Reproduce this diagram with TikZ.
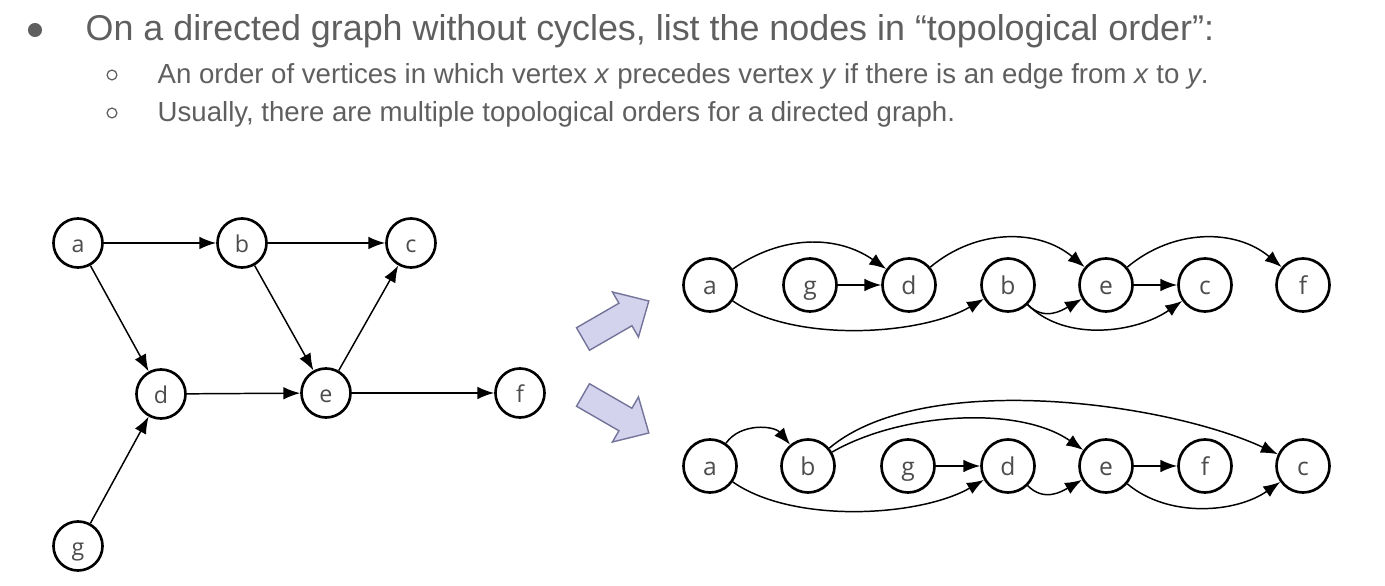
\documentclass[tikz,border=0pt]{standalone}
\usepackage{fontspec}
\setmainfont{Liberation Sans}
\newfontfamily\nodefont{Open Sans}
\usetikzlibrary{arrows.meta}
\definecolor{txt}{HTML}{5F5F5F}
\definecolor{arrfill}{HTML}{D3D3EE}
\definecolor{arrdraw}{HTML}{74749A}
\begin{document}
\begin{tikzpicture}[x=0.01cm,y=-0.01cm,
  vtx/.style={circle,draw=black,line width=0.75pt,minimum size=0.49cm,inner sep=0pt,
    text height=1.2ex,text depth=0.2ex,
    font=\nodefont\fontsize{6.6}{7}\selectfont,text=black!70},
  vtxr/.style={vtx,minimum size=0.53cm,font=\nodefont\fontsize{7}{8}\selectfont},
  edge/.style={line width=0.42pt,-{Latex[length=4.8pt,width=3.6pt]}},
  txtline/.style={anchor=base west,inner sep=0pt,text=txt},
  blockarrow/.style={fill=arrfill,draw=arrdraw,line width=0.4pt,line join=miter},
]
\useasboundingbox (0,0) rectangle (1385,586);

% text
\fill[txt] (35,30) circle (2pt);
\node[txtline,font=\fontsize{10.2}{12}\selectfont] (h1) at (85,41)
  {On a directed graph without cycles, list the nodes in “topological order”:};
\draw[txt,line width=0.35pt] (112,75) circle (1.4pt);
\node[txtline,font=\fontsize{7.85}{9}\selectfont] (h2) at (157,84)
  {An order of vertices in which vertex \textit{x} precedes vertex \textit{y} if there is an edge from \textit{x} to \textit{y}.};
\draw[txt,line width=0.35pt] (112,113) circle (1.4pt);
\node[txtline,font=\fontsize{7.85}{9}\selectfont] (h3) at (157,122)
  {Usually, there are multiple topological orders for a directed graph.};

% left graph
\node[vtx] (a) at (78,243) {a};
\node[vtx] (b) at (242,243) {b};
\node[vtx] (c) at (411,243) {c};
\node[vtx] (d) at (161,394) {d};
\node[vtx] (e) at (326,393) {e};
\node[vtx] (f) at (520,393) {f};
\node[vtx] (g) at (78,546) {g};
\draw[edge] (a) -- (b);
\draw[edge] (b) -- (c);
\draw[edge] (a) -- (d);
\draw[edge] (b) -- (e);
\draw[edge] (e) -- (c);
\draw[edge] (d) -- (e);
\draw[edge] (e) -- (f);
\draw[edge] (g) -- (d);

% block arrows
\begin{scope}[shift={(583,339)},rotate=30]
  \draw[blockarrow] (0,-13) -- (49,-13) -- (49,-26) -- (76,0) -- (49,26) -- (49,13) -- (0,13) -- cycle;
\end{scope}
\begin{scope}[shift={(583,395)},rotate=-30]
  \draw[blockarrow] (0,-13) -- (49,-13) -- (49,-26) -- (76,0) -- (49,26) -- (49,13) -- (0,13) -- cycle;
\end{scope}

% top order: a g d b e c f
\node[vtxr] (ta) at (710,285) {a};
\node[vtxr] (tg) at (810,285) {g};
\node[vtxr] (td) at (909,285) {d};
\node[vtxr] (tb) at (1008,285) {b};
\node[vtxr] (te) at (1106,285) {e};
\node[vtxr] (tc) at (1205,285) {c};
\node[vtxr] (tf) at (1303,285) {f};
\draw[edge] (ta) to[out=35,in=145] (td);
\draw[edge] (ta) to[out=-35,in=-150,looseness=0.75] (tb);
\draw[edge] (tg) -- (td);
\draw[edge] (td) to[out=40,in=140] (te);
\draw[edge] (tb) to[out=-45,in=-150,looseness=1.1] (te);
\draw[edge] (tb) to[out=-45,in=-145,looseness=0.9] (tc);
\draw[edge] (te) -- (tc);
\draw[edge] (te) to[out=40,in=140] (tf);

% bottom order: a b g d e f c
\node[vtxr] (ba) at (710,466) {a};
\node[vtxr] (bb) at (808,466) {b};
\node[vtxr] (bg) at (908,466) {g};
\node[vtxr] (bd) at (1008,466) {d};
\node[vtxr] (be) at (1106,466) {e};
\node[vtxr] (bf) at (1205,466) {f};
\node[vtxr] (bc) at (1303,466) {c};
\draw[edge] (ba) to[out=55,in=130] (bb);
\draw[edge] (ba) to[out=-35,in=-150,looseness=0.75] (bd);
\draw[edge] (bb) to[out=40,in=155,looseness=0.7] (bc);
\draw[edge] (bb) to[out=30,in=145,looseness=0.8] (be);
\draw[edge] (bg) -- (bd);
\draw[edge] (bd) to[out=-45,in=-150,looseness=1.1] (be);
\draw[edge] (be) -- (bf);
\draw[edge] (be) to[out=-40,in=-145,looseness=0.9] (bc);
\end{tikzpicture}
\end{document}
